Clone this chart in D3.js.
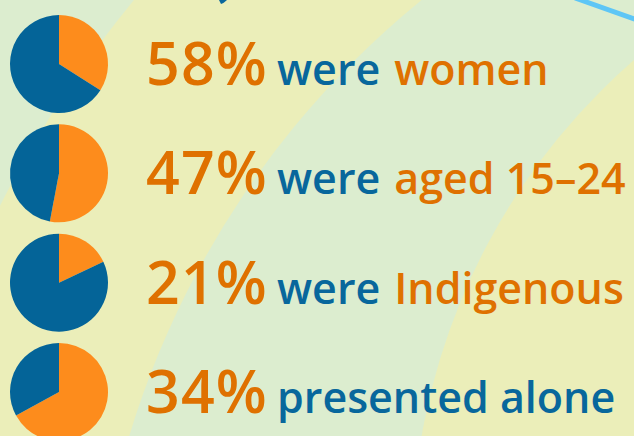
<!DOCTYPE html>
<html>
<head>
<meta charset="utf-8">
<title>Pies</title>
<script src="https://d3js.org/d3.v7.min.js"></script>
<style>
  body { margin: 0; background: #dcedcf; }
  svg { display: block; }
</style>
</head>
<body>
<svg id="chart" width="634" height="436"></svg>
<script>
// values
var percents = [58, 47, 21, 34];
var orangeShare = [34, 53, 18, 67];   // share of the orange slice as drawn
var verbs = ["were", "were", "were", "presented alone"];
var highlights = ["women", "aged 15\u201324", "Indigenous", ""];

var W = 634, H = 436;
var svg = d3.select("#chart");

//------------------------- background bands -------------------------
var bg = svg.append("g");
bg.append("rect").attr("width", W).attr("height", H).attr("fill", "#dcedcf");
bg.append("circle").attr("cx", 985).attr("cy", 700).attr("r", 1102).attr("fill", "#ebeeb9");
bg.append("circle").attr("cx", 987).attr("cy", 695).attr("r", 896).attr("fill", "#dcedcf");
bg.append("circle").attr("cx", 1057).attr("cy", 547).attr("r", 645).attr("fill", "#ebeeb9");

// decoration at the top edge
bg.append("line")
  .attr("x1", 575).attr("y1", -2).attr("x2", 640).attr("y2", 21)
  .attr("stroke", "#5ec6f6").attr("stroke-width", 5);
bg.append("path")
  .attr("d", "M219,0 L227,0 Q224,3 221,4 Z")
  .attr("fill", "#0a679c");

//------------------------- rows -------------------------
var y = d3.scalePoint()
  .domain(d3.range(percents.length))
  .range([64, 392]);

var pie = d3.pie().sort(null).value(function(d) { return d; });
var arc = d3.arc().innerRadius(0).outerRadius(49);

var rows = svg.selectAll("g.row")
  .data(percents)
  .enter().append("g")
    .attr("class", "row")
    .attr("transform", function(d, i) { return "translate(0," + y(i) + ")"; });

rows.append("g")
    .attr("transform", "translate(59,0)")
  .selectAll("path")
  .data(function(d, i) { return pie([orangeShare[i], 100 - orangeShare[i]]); })
  .enter().append("path")
    .attr("d", arc)
    .attr("fill", function(d, j) { return j === 0 ? "#fd8c1c" : "#046498"; });

var txt = rows.append("text")
  .attr("x", 146)
  .attr("y", 21)
  .attr("font-family", "'Open Sans', sans-serif")
  .attr("font-weight", 600);

txt.append("tspan")
  .attr("font-size", "59px")
  .attr("fill", "#df7100")
  .attr("letter-spacing", "1.2px")
  .text(function(d) { return d + "%"; });

txt.append("tspan")
  .attr("font-size", "43px")
  .attr("fill", "#08679c")
  .attr("dx", 9)
  .text(function(d, i) { return verbs[i]; });

txt.append("tspan")
  .attr("font-size", "43px")
  .attr("fill", "#df7100")
  .attr("dx", 14)
  .text(function(d, i) { return highlights[i]; });
</script>
</body>
</html>
